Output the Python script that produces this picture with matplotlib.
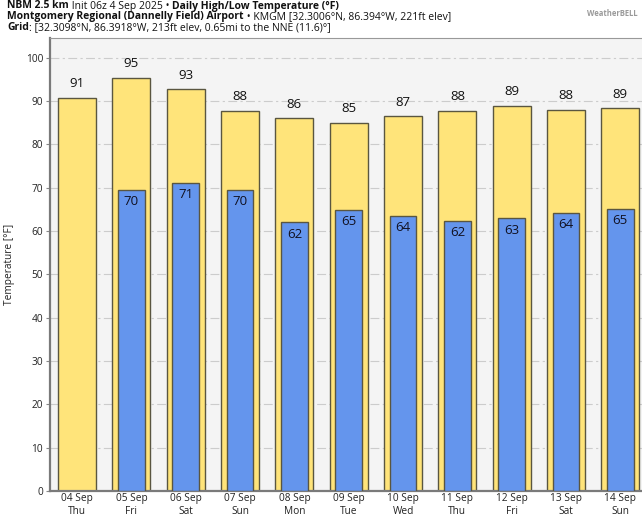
import numpy as np
import matplotlib
matplotlib.use("Agg")
import matplotlib.pyplot as plt

plt.rcParams['font.family'] = ['Open Sans', 'DejaVu Sans']

# ----- data -----
dates = ["04 Sep", "05 Sep", "06 Sep", "07 Sep", "08 Sep", "09 Sep",
         "10 Sep", "11 Sep", "12 Sep", "13 Sep", "14 Sep"]
days = ["Thu", "Fri", "Sat", "Sun", "Mon", "Tue", "Wed", "Thu", "Fri", "Sat", "Sun"]
highs = [90.7, 95.3, 92.7, 87.7, 86.0, 85.0, 86.5, 87.7, 88.9, 88.0, 88.3]
lows = [np.nan, 69.5, 71.1, 69.5, 62.0, 64.9, 63.5, 62.3, 62.9, 64.2, 65.1]
high_labels = ["91", "95", "93", "88", "86", "85", "87", "88", "89", "88", "89"]
low_labels = ["", "70", "71", "70", "62", "65", "64", "62", "63", "64", "65"]
yticks = [0, 10, 20, 30, 40, 50, 60, 70, 80, 90, 100]

title_lines = [
    [("NBM 2.5 km", "bold"), (" Init 06z 4 Sep 2025 \u2022 ", "normal"),
     ("Daily High/Low Temperature (\u00b0F)", "bold")],
    [("Montgomery Regional (Dannelly Field) Airport", "bold"),
     (" \u2022 KMGM [32.3006\u00b0N, 86.394\u00b0W, 221ft elev]", "normal")],
    [("Grid", "bold"),
     (": [32.3098\u00b0N, 86.3918\u00b0W, 213ft elev, 0.65mi to the NNE (11.6)\u00b0]", "normal")],
]

YELLOW = "#ffe47a"
BLUE = "#6495ed"
EDGE = "#5a5640"

fig = plt.figure(figsize=(6.42, 5.19), dpi=100)
W, H = 642, 519
# axes: left spine at x=50, top y=38, bottom y=491; extends past right edge
ax = fig.add_axes([50 / W, (H - 491) / H, (647.5 - 50) / W, (491 - 38) / H])
ax.set_facecolor("#f4f4f4")

x = np.arange(len(dates))
ax.bar(x, highs, width=0.7, color=YELLOW, edgecolor=EDGE, linewidth=1.0, zorder=2)
ax.bar(x, lows, width=0.49, color=BLUE, edgecolor=EDGE, linewidth=1.0, zorder=3)

for i, h in enumerate(highs):
    ax.annotate(high_labels[i], (i, h), xytext=(0, 10), textcoords="offset points",
                ha="center", va="center", fontsize=9.5, color="#111111", zorder=4)
for i, l in enumerate(lows):
    if not low_labels[i]:
        continue
    ax.annotate(low_labels[i], (i, l), xytext=(0, -8.5), textcoords="offset points",
                ha="center", va="center", fontsize=9.5, color="#111122", zorder=4)

ax.set_xlim(-0.5, len(dates) - 0.5)
ax.set_ylim(0, 104.5)
ax.set_yticks(yticks)
ax.set_yticklabels([str(t) for t in yticks], fontsize=7.3, color="#222222")
ax.set_xticks(x)
ax.set_xticklabels([f"{d}\n{w}" for d, w in zip(dates, days)], fontsize=7.3,
                   color="#222222", linespacing=1.2)
ax.tick_params(axis="x", length=0, pad=1.5)
ax.tick_params(axis="y", length=3, color="#888888", pad=2)
ax.grid(axis="y", color="#cccccc", linestyle=(0, (8, 3, 2, 3)), linewidth=0.8, zorder=0)
ax.set_axisbelow(True)
ax.set_ylabel("Temperature [\u00b0F]", fontsize=7.3, color="#222222", labelpad=8)

for side in ["left", "bottom"]:
    ax.spines[side].set_color("#7a7a7a")
    ax.spines[side].set_linewidth(1.6)
ax.spines["top"].set_color("#999999")
ax.spines["top"].set_linewidth(0.8)
ax.spines["right"].set_visible(False)

# title block, mixed bold/normal pieces drawn one after another
renderer = fig.canvas.get_renderer()
line_y = [6, 17, 28]
for ypix, pieces in zip(line_y, title_lines):
    xpix = 7
    for txt, weight in pieces:
        t = fig.text(xpix / W, 1 - ypix / H, txt, fontsize=7.5, fontweight=weight,
                     ha="left", va="center", color="#111111")
        bb = t.get_window_extent(renderer=renderer)
        xpix += bb.width

# logo stand-in
fig.text(612 / W, 1 - 14 / H, "WeatherBELL", fontsize=5.5, color="#9a9a9a",
         ha="center", va="center", fontweight="bold")

fig.savefig("out.png", dpi=100)
